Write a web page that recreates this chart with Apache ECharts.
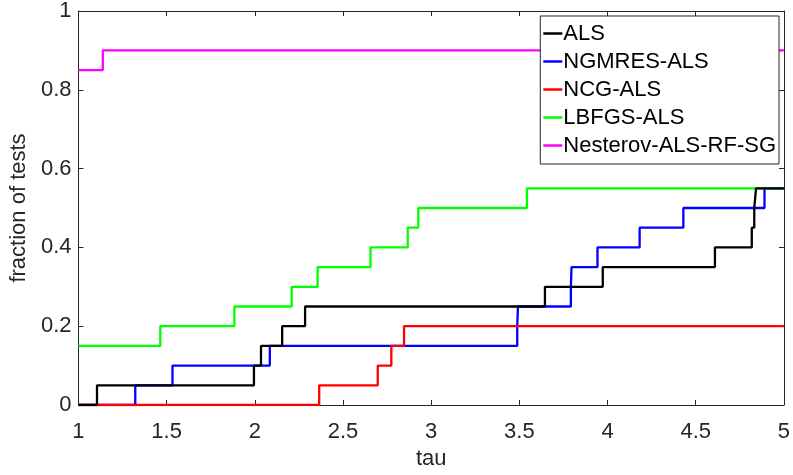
<!DOCTYPE html>
<html>
<head>
<meta charset="utf-8">
<script src="https://cdn.jsdelivr.net/npm/echarts@6/dist/echarts.min.js"></script>
<style>html,body{margin:0;padding:0;background:#fff;}#c{width:793px;height:475px;}</style>
</head>
<body>
<div id="c"></div>
<script>
var seriesNames = ['ALS', 'NGMRES-ALS', 'NCG-ALS', 'LBFGS-ALS', 'Nesterov-ALS-RF-SG'];
var seriesColors = ['#000000', '#0000ff', '#ff0000', '#00ff00', '#ff00ff'];
// each pair: [tau at which the step happens, new fraction]
var alsData = [[1,0],[1.105,0.05],[1.995,0.1],[2.035,0.15],[2.155,0.2],[2.285,0.25],[3.645,0.3],[3.973,0.35],[4.609,0.4],[4.818,0.45],[4.832,0.5],[4.842,0.55],[5,0.55]];
var ngmresData = [[1,0],[1.322,0.05],[1.533,0.1],[2.085,0.15],[3.488,0.2],[3.492,0.25],[3.792,0.3],[3.796,0.35],[3.943,0.4],[4.182,0.45],[4.43,0.5],[4.89,0.55],[5,0.55]];
var ncgData = [[1,0],[2.365,0.05],[2.697,0.1],[2.774,0.15],[2.846,0.2],[5,0.2]];
var lbfgsData = [[1,0.15],[1.464,0.2],[1.884,0.25],[2.209,0.3],[2.356,0.35],[2.656,0.4],[2.867,0.45],[2.927,0.5],[3.543,0.55],[5,0.55]];
var nesterovData = [[1,0.85],[1.138,0.9],[5,0.9]];
var xTicks = [1, 1.5, 2, 2.5, 3, 3.5, 4, 4.5, 5];
var yTicks = [0, 0.2, 0.4, 0.6, 0.8, 1];
var xLabel = 'tau';
var yLabel = 'fraction of tests';

var allData = [alsData, ngmresData, ncgData, lbfgsData, nesterovData];
var FONT = 'Liberation Sans, Arial, Helvetica, sans-serif';
var AX = '#262626';

var chart = echarts.init(document.getElementById('c'), null, {renderer: 'canvas'});
var series = seriesNames.map(function (n, i) {
  return {
    name: n, type: 'line', step: 'end', data: allData[i], showSymbol: false, symbol: 'none',
    lineStyle: {color: seriesColors[i], width: 2.3}, itemStyle: {color: seriesColors[i]},
    animation: false, z: 2 + (i === 0 ? 1 : 0)
  };
});
var fmt = function (v) { return String(+v.toFixed(2)); };
chart.setOption({
  animation: false,
  backgroundColor: '#ffffff',
  grid: {left: 76.5, top: 10.5, right: 8, bottom: 66.5, containLabel: false},
  legend: {
    data: seriesNames.map(function (n, i) { return {name: n, icon: 'rect', itemStyle: {color: seriesColors[i]}}; }),
    orient: 'vertical', right: 14, top: 16,
    itemWidth: 19, itemHeight: 2.5, itemGap: 5,
    backgroundColor: '#ffffff', borderColor: AX, borderWidth: 1,
    padding: [6, 3, 7, 3],
    textStyle: {fontFamily: FONT, fontSize: 22, color: '#000', padding: [0, 0, 0, -4], lineHeight: 23},
    selectedMode: false
  },
  xAxis: [{
    type: 'value', min: 1, max: 5, interval: 0.5,
    name: xLabel, nameLocation: 'middle', nameGap: 43,
    nameTextStyle: {fontFamily: FONT, fontSize: 22, color: AX},
    axisLine: {show: true, onZero: false, lineStyle: {color: AX, width: 1}},
    axisTick: {show: true, inside: true, length: 5, lineStyle: {color: AX}},
    axisLabel: {fontFamily: FONT, fontSize: 22, color: AX, margin: 16, formatter: fmt},
    splitLine: {show: false}
  }, {
    type: 'value', min: 1, max: 5, interval: 0.5, position: 'top',
    axisLine: {show: true, onZero: false, lineStyle: {color: AX, width: 1}},
    axisTick: {show: true, inside: true, length: 5, lineStyle: {color: AX}},
    axisLabel: {show: false}, splitLine: {show: false}
  }],
  yAxis: [{
    type: 'value', min: 0, max: 1, interval: 0.2,
    name: yLabel, nameLocation: 'middle', nameGap: 40,
    nameTextStyle: {fontFamily: FONT, fontSize: 22, color: AX},
    axisLine: {show: true, onZero: false, lineStyle: {color: AX, width: 1}},
    axisTick: {show: true, inside: true, length: 5, lineStyle: {color: AX}},
    axisLabel: {fontFamily: FONT, fontSize: 22, color: AX, margin: 7, formatter: fmt},
    splitLine: {show: false}
  }, {
    type: 'value', min: 0, max: 1, interval: 0.2, position: 'right',
    axisLine: {show: true, onZero: false, lineStyle: {color: AX, width: 1}},
    axisTick: {show: true, inside: true, length: 5, lineStyle: {color: AX}},
    axisLabel: {show: false}, splitLine: {show: false}
  }],
  series: series
});
</script>
</body>
</html>
